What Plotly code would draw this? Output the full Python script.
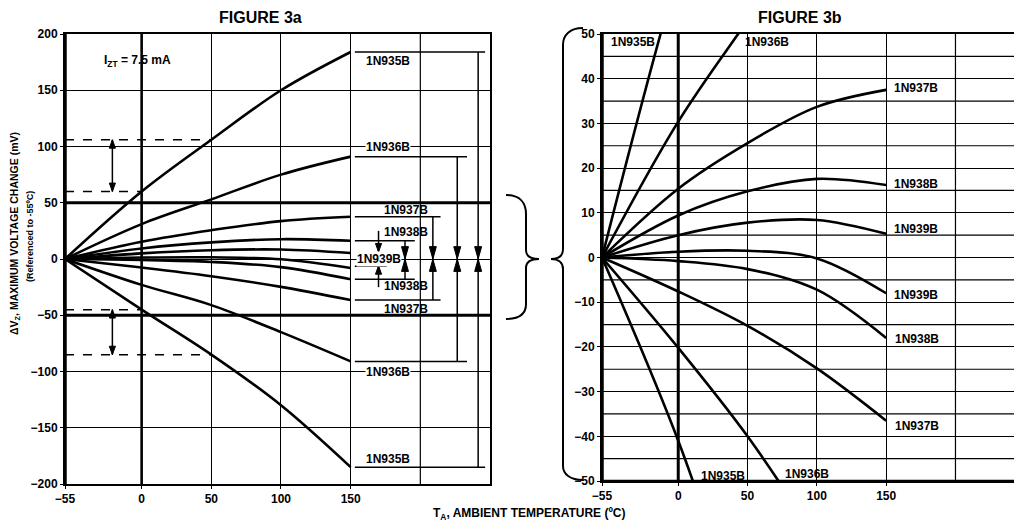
import plotly.graph_objects as go

# ---------------- data (mV, referenced to -55 C) ----------------
TEMPS = [-55, 0, 50, 100, 150]

# Figure 3a curves
A_1N935B_POS = [0, 60, 106, 150, 184]
A_1N935B_NEG = [0, -45, -85, -130, -185]
A_1N936B_POS = [0, 31, 53, 75, 91]
A_1N936B_NEG = [0, -23, -41, -65, -91]

# small-range devices (shared by 3a and 3b)
N937B_POS = [0, 15.4, 25.6, 33.7, 37.5]
N937B_NEG = [0, -7.6, -15.3, -24.8, -36.5]
N938B_POS = [0, 9.4, 14.8, 17.6, 16.2]
N938B_NEG = [0, -0.8, -2.6, -7.2, -18]
N939B_POS = [0, 5.0, 7.8, 8.4, 5.3]
N939B_NEG = [0, 1.3, 1.5, -0.2, -8]

# Figure 3b large-device curves (leave the +/-50 window)
B_TEMPS = [-55, 0, 50, 100]
B_1N935B_POS = [0, 64, 112, 155]
B_1N935B_NEG = [0, -41, -86, -130]
B_1N936B_POS = [0, 30.4, 53, 75]
B_1N936B_NEG = [0, -20.2, -40, -63]

X_TICKS = [-55, 0, 50, 100, 150]
X_EXTRA_GRID = 200
A_Y_TICKS = list(range(-200, 201, 50))
B_Y_TICKS = list(range(-50, 51, 10))
B_Y_MINOR = list(range(-45, 50, 10))

# ---------------- style ----------------
OFF = 8                      # page body margin of the html page
W, H = 1022 - OFF, 527 - OFF
BLACK = "#000000"
FONT = "Liberation Sans, Arial, Helvetica, sans-serif"
CURVE_W = 2.6
GRID_W = 1.2


def px(x):
    return (x - OFF) / W


def py(y):
    return 1 - (y - OFF) / H


fig = go.Figure()

curves_a = [A_1N935B_POS, A_1N935B_NEG, A_1N936B_POS, A_1N936B_NEG,
            N937B_POS, N937B_NEG, N938B_POS, N938B_NEG, N939B_POS, N939B_NEG]
for ys in curves_a:
    fig.add_trace(go.Scatter(x=TEMPS, y=ys, mode="lines",
                             line=dict(color=BLACK, width=CURVE_W, shape="spline", smoothing=1),
                             xaxis="x", yaxis="y", hoverinfo="skip", showlegend=False))

curves_b = [(B_TEMPS, B_1N935B_POS), (B_TEMPS, B_1N935B_NEG),
            (B_TEMPS, B_1N936B_POS), (B_TEMPS, B_1N936B_NEG),
            (TEMPS, N937B_POS), (TEMPS, N937B_NEG), (TEMPS, N938B_POS),
            (TEMPS, N938B_NEG), (TEMPS, N939B_POS), (TEMPS, N939B_NEG)]
for xs, ys in curves_b:
    fig.add_trace(go.Scatter(x=xs, y=ys, mode="lines",
                             line=dict(color=BLACK, width=CURVE_W, shape="spline", smoothing=1),
                             xaxis="x2", yaxis="y2", hoverinfo="skip", showlegend=False))

tickfont = dict(family=FONT, size=12, color=BLACK, weight="bold")
axis_common = dict(showgrid=True, gridcolor=BLACK, gridwidth=GRID_W, zeroline=False,
                   showline=True, linecolor=BLACK, linewidth=2, ticks="outside",
                   ticklen=3, tickcolor=BLACK, tickfont=tickfont, fixedrange=True,
                   automargin=False)

fig.update_layout(
    template="none",
    width=W, height=H, margin=dict(l=0, r=0, t=0, b=0, pad=0),
    paper_bgcolor="white", plot_bgcolor="white", showlegend=False,
    xaxis=dict(domain=[px(65), px(490)], range=[-55, 250], tickvals=X_TICKS,
               mirror=True, anchor="y", **axis_common),
    yaxis=dict(domain=[py(484), py(34)], range=[-200, 200], tickvals=A_Y_TICKS,
               mirror=True, anchor="x", **axis_common),
    xaxis2=dict(domain=[px(602), 1.0], range=[-55, 248], tickvals=X_TICKS,
                mirror=True, anchor="y2", **axis_common),
    yaxis2=dict(domain=[py(481), py(34)], range=[-50, 50], tickvals=B_Y_TICKS,
                mirror=False, anchor="x2", **axis_common),
)

shapes = []


def line(x0, y0, x1, y1, xr="x", yr="y", w=1.5, dash=None):
    d = dict(type="line", x0=x0, y0=y0, x1=x1, y1=y1, xref=xr, yref=yr,
             line=dict(color=BLACK, width=w))
    if dash:
        d["line"]["dash"] = dash
    shapes.append(d)


def head(x, y_tip, direction, half_w=2.2, length=7.5):
    # filled arrow head in figure-3a data units; direction +1 points up, -1 points down
    yb = y_tip - direction * length
    shapes.append(dict(type="path", xref="x", yref="y", fillcolor=BLACK,
                       line=dict(color=BLACK, width=1),
                       path=f"M {x-half_w},{yb} L {x+half_w},{yb} L {x},{y_tip} Z"))


def arrow(x, y_from, y_to, both=False):
    line(x, y_from, x, y_to, w=1.5)
    d = 1 if y_to > y_from else -1
    head(x, y_to, d)
    if both:
        head(x, y_from, -d)


# extra grid lines where no tick label is shown
line(X_EXTRA_GRID, -200, X_EXTRA_GRID, 200, w=GRID_W)
line(X_EXTRA_GRID, -50, X_EXTRA_GRID, 50, "x2", "y2", w=GRID_W)
for v in B_Y_MINOR:
    line(-55, v, 248, v, "x2", "y2", w=GRID_W)

# heavy axis / reference lines
line(-55, -200, -55, 200, w=3.5)
line(0, -200, 0, 200, w=2.6)
line(-55, 50, 250, 50, w=3)
line(-55, -50, 250, -50, w=3)
line(-55, -50, -55, 50, "x2", "y2", w=3.5)
line(0, -50, 0, 50, "x2", "y2", w=3)
line(-55, -50, 248, -50, "x2", "y2", w=2.5)

# dashed limits for 1N935B in figure 3a
line(-55, A_1N935B_POS[2], TEMPS[2], A_1N935B_POS[2], dash="dash")
line(-55, A_1N935B_POS[1], TEMPS[1], A_1N935B_POS[1], dash="dash")
line(-55, A_1N935B_NEG[1], TEMPS[1], A_1N935B_NEG[1], dash="dash")
line(-55, A_1N935B_NEG[2], TEMPS[2], A_1N935B_NEG[2], dash="dash")
arrow(-21, A_1N935B_POS[1], A_1N935B_POS[2], both=True)
arrow(-21, A_1N935B_NEG[1], A_1N935B_NEG[2], both=True)

# brackets on the right of figure 3a
brackets = [  # (top, bottom, vertical x, right end)
    (A_1N935B_POS[-1], A_1N935B_NEG[-1], 241.5, 246.5),
    (A_1N936B_POS[-1], A_1N936B_NEG[-1], 226.5, 233.5),
    (N937B_POS[-1], N937B_NEG[-1], 209, 214.5),
    (N938B_POS[-1], N938B_NEG[-1], 189, 196),
]
for top, bot, xv, xe in brackets:
    line(153, top, xe, top)
    line(153, bot, xe, bot)
    line(xv, top, xv, bot)
    shapes.append(dict(type="path", xref="x", yref="y", fillcolor=BLACK,
                       line=dict(color=BLACK, width=1),
                       path=f"M {xv-2.5},11 L {xv+2.5},11 L {xv},0 Z "
                            f"M {xv-2.5},-11 L {xv+2.5},-11 L {xv},0 Z"))
line(153, N939B_NEG[-1] + 1.5, 176, N939B_NEG[-1] + 1.5)
arrow(170, 25, N939B_POS[-1] + 1)
arrow(170, -25, N939B_NEG[-1] + 2)


# curly braces
def brace_path(pts):
    out = []
    for cmd, coords in pts:
        out.append(cmd + " " + " ".join(f"{px(a):.5f},{py(b):.5f}" for a, b in coords))
    return " ".join(out)


right_brace = [("M", [(506, 195)]), ("C", [(520, 195), (526, 203), (526, 214)]),
               ("L", [(526, 250)]), ("C", [(526, 256), (530, 259), (539, 259)]),
               ("C", [(530, 259), (526, 262), (526, 268)]), ("L", [(526, 304)]),
               ("C", [(526, 314), (520, 319), (506, 319)])]
left_brace = [("M", [(583, 28)]), ("C", [(570, 28), (563, 35), (563, 45)]),
              ("L", [(563, 249)]), ("C", [(563, 255), (559, 259), (551, 259)]),
              ("C", [(559, 259), (563, 263), (563, 269)]), ("L", [(563, 466)]),
              ("C", [(563, 474), (570, 480), (583, 480)])]
for b in (right_brace, left_brace):
    shapes.append(dict(type="path", xref="paper", yref="paper", path=brace_path(b),
                       line=dict(color=BLACK, width=2)))

fig.update_layout(shapes=shapes)

ann = []
lab_font = dict(family=FONT, size=12, color=BLACK, weight="bold")


def label(text, x, y, xr="x", yr="y", xanchor="center", bg=None, font=None):
    d = dict(text=text, x=x, y=y, xref=xr, yref=yr, showarrow=False,
             xanchor=xanchor, yanchor="middle", font=font or lab_font, borderpad=0)
    if bg:
        d["bgcolor"] = bg
    ann.append(d)


# figure 3a labels
label("1N935B", 177, 176)
label("1N935B", 177, -178)
label("1N936B", 177, 100, bg="white")
label("1N936B", 177, -100, bg="white")
label("1N937B", 189.5, 44)
label("1N937B", 189.5, -44)
label("1N938B", 190, 24)
label("1N938B", 190, -24)
label("1N939B", 170, 0, bg="white")
label("I<sub>ZT</sub> = 7.5 mA", -28, 176, xanchor="left",
      font=dict(family=FONT, size=12, color=BLACK, weight="bold"))

# figure 3b labels
label("1N935B", -32.5, 48.3, "x2", "y2")
label("1N936B", 64, 48.3, "x2", "y2")
label("1N937B", 155, 38, "x2", "y2", xanchor="left")
label("1N938B", 155, 16.4, "x2", "y2", xanchor="left")
label("1N939B", 155, 6.4, "x2", "y2", xanchor="left")
label("1N939B", 155, -8.4, "x2", "y2", xanchor="left")
label("1N938B", 156, -18.2, "x2", "y2", xanchor="left")
label("1N937B", 156, -37.7, "x2", "y2", xanchor="left")
label("1N936B", 93, -48.5, "x2", "y2")
label("1N935B", 32, -48.8, "x2", "y2")

# titles
title_font = dict(family=FONT, size=16, color=BLACK, weight="bold")
ann.append(dict(text="FIGURE 3a", x=px(260), y=1.0, xref="paper", yref="paper",
                showarrow=False, font=title_font, xanchor="center", yanchor="top",
                borderpad=0))
ann.append(dict(text="FIGURE 3b", x=px(800), y=1.0, xref="paper", yref="paper",
                showarrow=False, font=title_font, xanchor="center", yanchor="top",
                borderpad=0))
ann.append(dict(text="T<sub>A</sub>, AMBIENT TEMPERATURE (ºC)", x=px(529), y=py(514),
                xref="paper", yref="paper", showarrow=False, xanchor="center",
                yanchor="middle", font=dict(family=FONT, size=12, color=BLACK, weight="bold")))
ann.append(dict(text="ΔV<sub>Z</sub>, MAXIMUM VOLTAGE CHANGE (mV)", x=px(15), y=py(234),
                xref="paper", yref="paper", showarrow=False, textangle=-90,
                xanchor="center", yanchor="middle",
                font=dict(family=FONT, size=10.5, color=BLACK, weight="bold")))
ann.append(dict(text="(Referenced to -55ºC)", x=px(30), y=py(237),
                xref="paper", yref="paper", showarrow=False, textangle=-90,
                xanchor="center", yanchor="middle",
                font=dict(family=FONT, size=9, color=BLACK, weight="bold")))

fig.update_layout(annotations=ann)
fig.write_html("out.html")
